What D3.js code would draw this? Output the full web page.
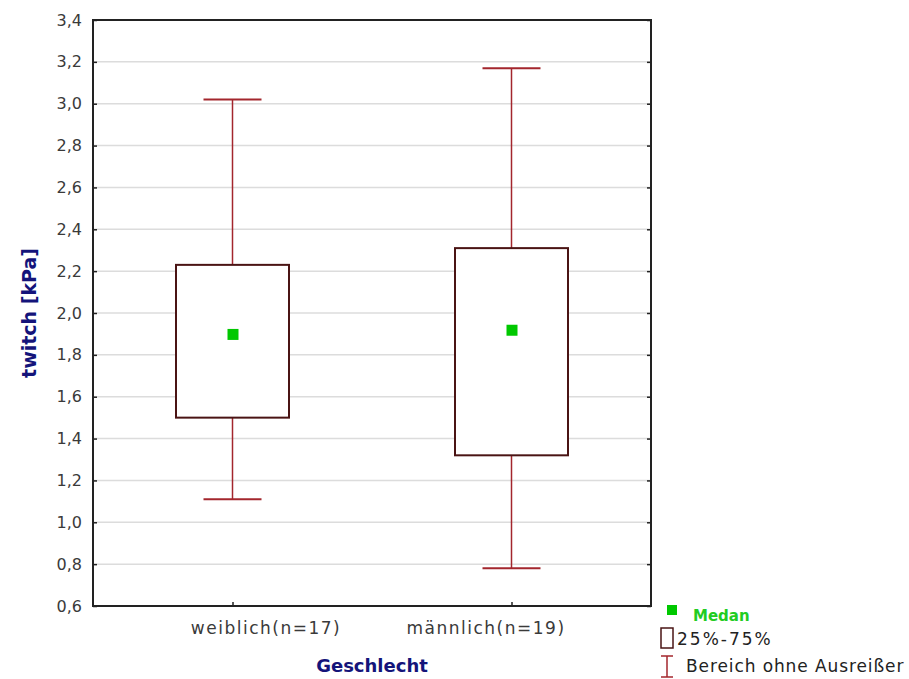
<!DOCTYPE html>
<html>
<head>
<meta charset="utf-8">
<script src="https://cdn.jsdelivr.net/npm/d3@7"></script>
<style>
  body { margin: 0; background: #fff; }
  svg { display: block; font-family: "DejaVu Sans", sans-serif; }
</style>
</head>
<body>
<div id="chart"></div>
<script>
// ---------- Data ----------
const groups    = ["weiblich(n=17)", "männlich(n=19)"];
const whiskLow  = [1.11, 0.78];
const q25       = [1.50, 1.32];
const medians   = [1.90, 1.92];
const q75       = [2.23, 2.31];
const whiskHigh = [3.02, 3.17];
const yTickVals = [0.6, 0.8, 1.0, 1.2, 1.4, 1.6, 1.8, 2.0, 2.2, 2.4, 2.6, 2.8, 3.0, 3.2, 3.4];

const rows = groups.map((g, i) => ({
  g, lo: whiskLow[i], q1: q25[i], med: medians[i], q3: q75[i], hi: whiskHigh[i]
}));

// ---------- Layout ----------
const W = 909, H = 679;
const M = { t: 20, r: 258, b: 73, l: 93 };
const w = W - M.l - M.r, h = H - M.t - M.b;
const FONT = "'DejaVu Sans', sans-serif";
const labelShift = [33, -26]; // labels sit slightly towards the plot centre

const svg = d3.select("#chart").append("svg").attr("width", W).attr("height", H);
const g = svg.append("g").attr("transform", `translate(${M.l},${M.t})`);

const x = d3.scalePoint().domain(groups).range([0, w]).padding(0.5);
const y = d3.scaleLinear().domain([0.6, 3.4]).range([h, 0]);
const fmt = v => d3.format(".1f")(v).replace(".", ",");

// grid
g.append("g")
  .selectAll("line")
  .data(yTickVals.slice(1, -1))
  .join("line")
  .attr("x1", 0).attr("x2", w)
  .attr("y1", d => y(d)).attr("y2", d => y(d))
  .attr("stroke", "#dcdcdc").attr("stroke-width", 1.5);

// axes (inside ticks)
const yAx = g.append("g")
  .call(d3.axisLeft(y).tickValues(yTickVals).tickFormat(fmt).tickSize(-4).tickPadding(11));
yAx.select(".domain").remove();
yAx.selectAll("line").attr("stroke", "#222").attr("stroke-width", 1.5);
yAx.selectAll("text").attr("fill", "#3a3a3a")
  .style("font-size", "16px").style("font-family", FONT);

const yAxR = g.append("g").attr("transform", `translate(${w},0)`)
  .call(d3.axisRight(y).tickValues(yTickVals).tickFormat("").tickSize(-4));
yAxR.select(".domain").remove();
yAxR.selectAll("line").attr("stroke", "#222").attr("stroke-width", 1.5);

const xAx = g.append("g").attr("transform", `translate(0,${h})`)
  .call(d3.axisBottom(x).tickSize(-4).tickPadding(16));
xAx.select(".domain").remove();
xAx.selectAll("line").attr("stroke", "#222").attr("stroke-width", 1.5);
xAx.selectAll("text").attr("fill", "#3a3a3a")
  .attr("dx", (d, i) => labelShift[i])
  .style("font-size", "17px").style("font-family", FONT).style("letter-spacing", "1.5px");

// frame
g.append("rect").attr("width", w).attr("height", h)
  .attr("fill", "none").attr("stroke", "#222").attr("stroke-width", 2);

// ---------- Boxes ----------
const boxW = 113, capW = 58;
const whiskCol = "#a3262d", boxCol = "#4a1414";

const items = g.selectAll("g.item").data(rows).join("g").attr("class", "item")
  .attr("transform", d => `translate(${x(d.g)},0)`);

items.append("line").attr("x1", 0).attr("x2", 0)
  .attr("y1", d => y(d.hi)).attr("y2", d => y(d.q3))
  .attr("stroke", whiskCol).attr("stroke-width", 1.5);
items.append("line").attr("x1", 0).attr("x2", 0)
  .attr("y1", d => y(d.q1)).attr("y2", d => y(d.lo))
  .attr("stroke", whiskCol).attr("stroke-width", 1.5);
items.append("line").attr("x1", -capW / 2).attr("x2", capW / 2)
  .attr("y1", d => y(d.hi)).attr("y2", d => y(d.hi))
  .attr("stroke", whiskCol).attr("stroke-width", 2);
items.append("line").attr("x1", -capW / 2).attr("x2", capW / 2)
  .attr("y1", d => y(d.lo)).attr("y2", d => y(d.lo))
  .attr("stroke", whiskCol).attr("stroke-width", 2);
items.append("rect")
  .attr("x", -boxW / 2).attr("width", boxW)
  .attr("y", d => y(d.q3)).attr("height", d => y(d.q1) - y(d.q3))
  .attr("fill", "#fff").attr("stroke", boxCol).attr("stroke-width", 2);
items.append("rect")
  .attr("x", -5).attr("width", 11)
  .attr("y", d => y(d.med) - 5).attr("height", 11)
  .attr("fill", "#00c800");

// ---------- Axis titles ----------
svg.append("text")
  .attr("transform", `translate(36,${M.t + h / 2}) rotate(-90)`)
  .attr("text-anchor", "middle")
  .attr("fill", "#14147a").style("font-size", "19px").style("font-weight", "bold")
  .text("twitch [kPa]");

svg.append("text")
  .attr("x", M.l + w / 2).attr("y", 672)
  .attr("text-anchor", "middle")
  .attr("fill", "#14147a").style("font-size", "18px").style("font-weight", "bold")
  .text("Geschlecht");

// ---------- Legend ----------
const lg = svg.append("g");
lg.append("rect").attr("x", 667).attr("y", 605).attr("width", 10).attr("height", 10).attr("fill", "#00c800");
lg.append("text").attr("x", 693).attr("y", 621).attr("fill", "#22cc22")
  .style("font-size", "15px").style("font-weight", "bold").text("Medan");
lg.append("rect").attr("x", 661).attr("y", 628).attr("width", 12).attr("height", 20)
  .attr("fill", "#fff").attr("stroke", boxCol).attr("stroke-width", 1.5);
lg.append("text").attr("x", 677).attr("y", 645).attr("fill", "#222")
  .style("font-size", "17px").style("letter-spacing", "2px").text("25%-75%");
lg.append("line").attr("x1", 667).attr("x2", 667).attr("y1", 656).attr("y2", 677)
  .attr("stroke", whiskCol).attr("stroke-width", 1.5);
lg.append("line").attr("x1", 661).attr("x2", 673).attr("y1", 656).attr("y2", 656)
  .attr("stroke", whiskCol).attr("stroke-width", 1.5);
lg.append("line").attr("x1", 661).attr("x2", 673).attr("y1", 677).attr("y2", 677)
  .attr("stroke", whiskCol).attr("stroke-width", 1.5);
lg.append("text").attr("x", 686).attr("y", 672).attr("fill", "#222")
  .style("font-size", "17px").style("letter-spacing", "0.9px").text("Bereich ohne Ausreißer");
</script>
</body>
</html>
